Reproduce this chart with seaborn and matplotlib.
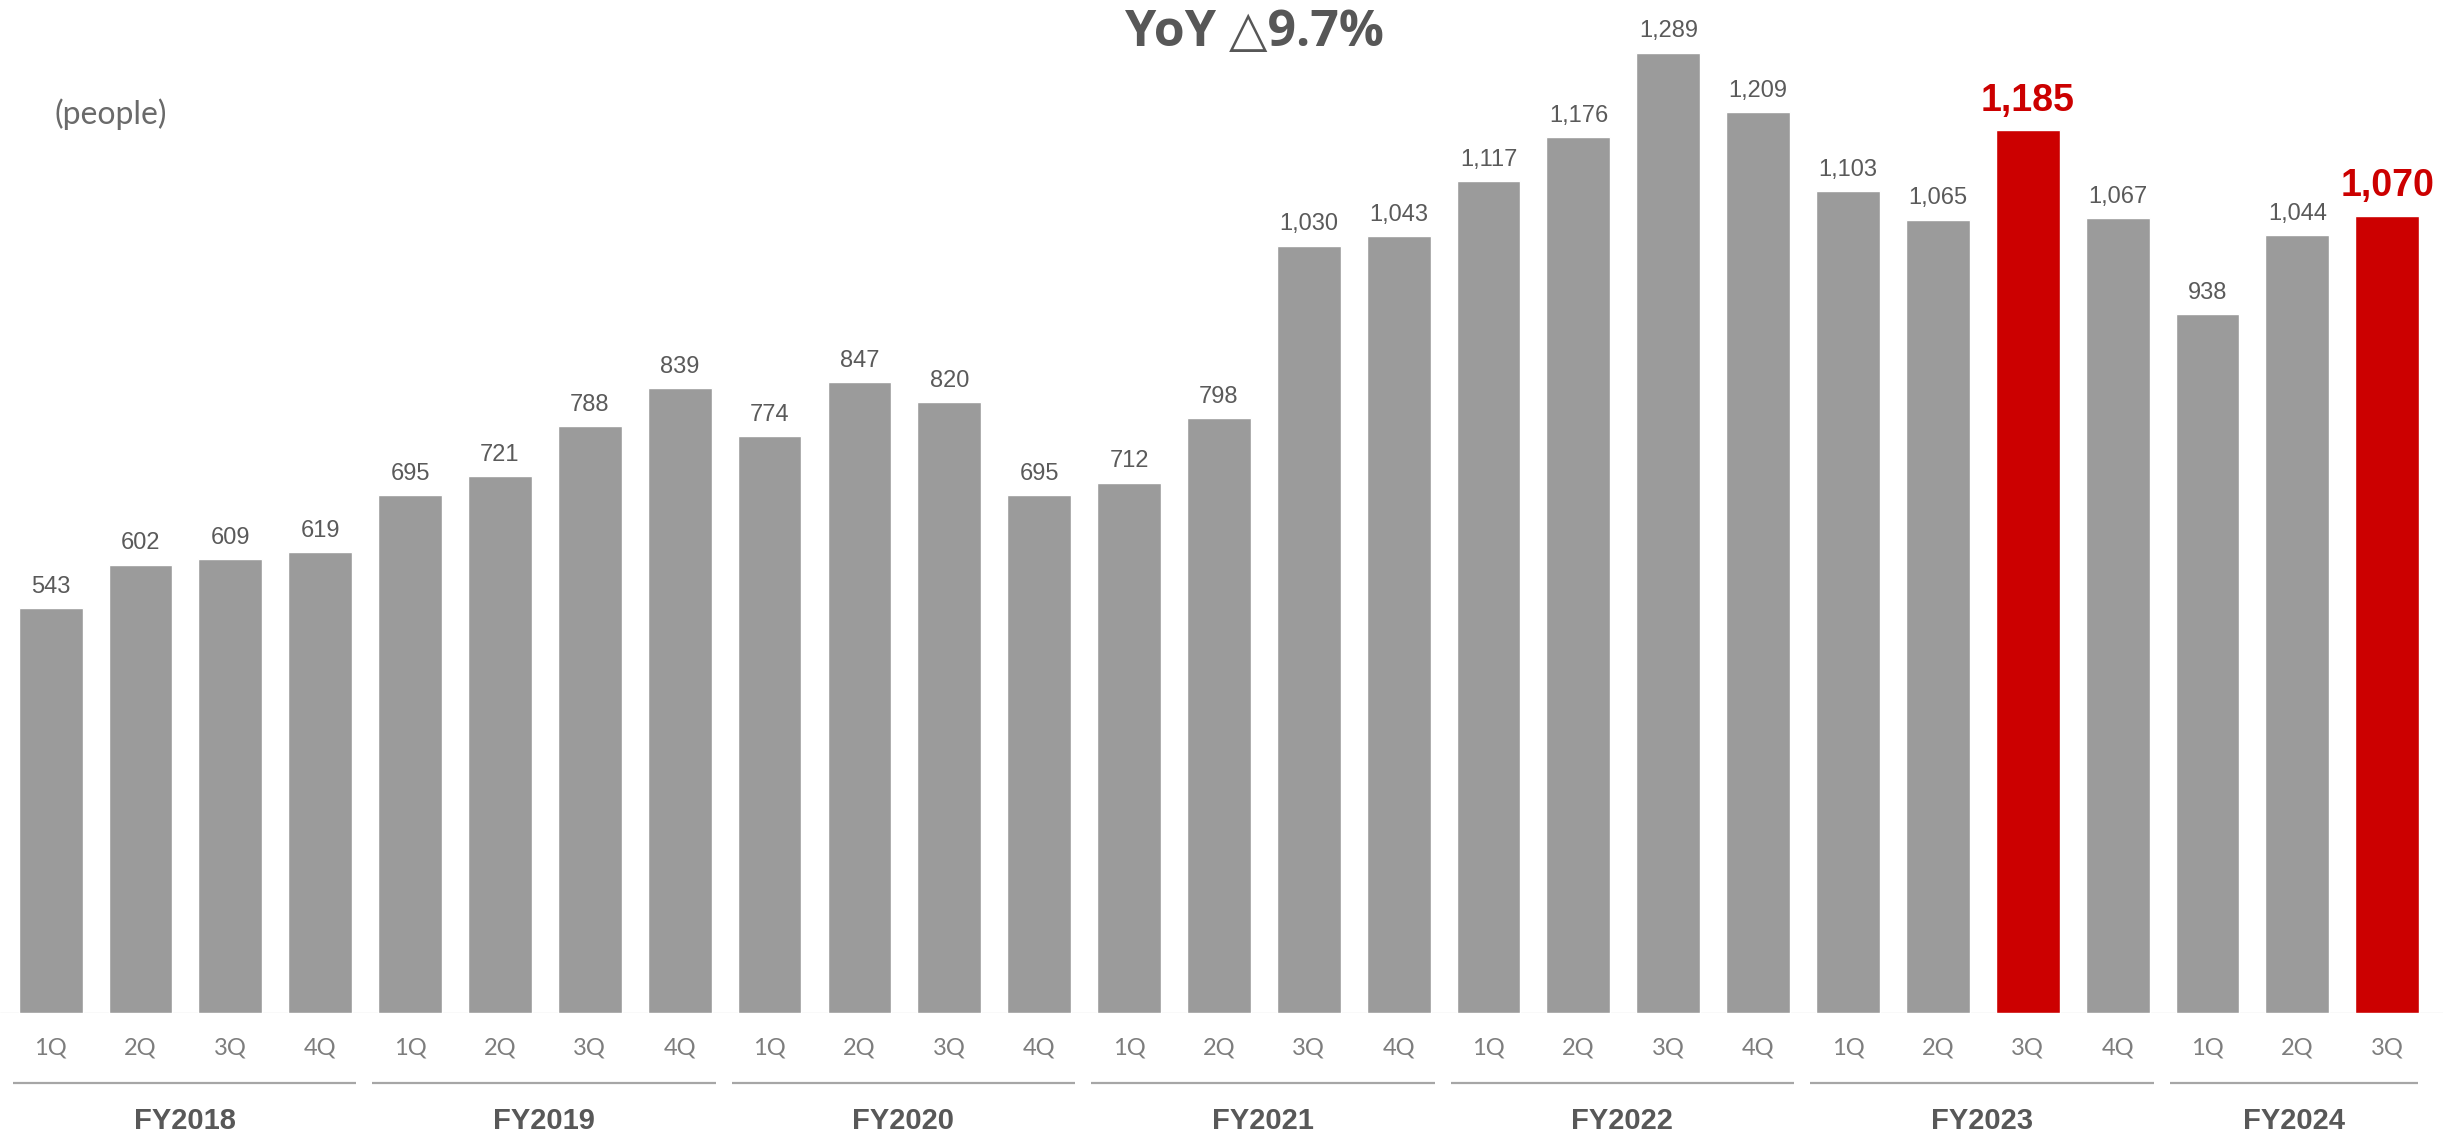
import matplotlib
matplotlib.use("Agg")
import matplotlib.pyplot as plt
from matplotlib.transforms import blended_transform_factory
import seaborn as sns
import pandas as pd

# ---- data -------------------------------------------------------------
fiscal_years = ["FY2018", "FY2019", "FY2020", "FY2021", "FY2022", "FY2023", "FY2024"]
quarters_in_year = [4, 4, 4, 4, 4, 4, 3]
quarter_names = ["1Q", "2Q", "3Q", "4Q"]
headcount = [543, 602, 609, 619,
             695, 721, 788, 839,
             774, 847, 820, 695,
             712, 798, 1030, 1043,
             1117, 1176, 1289, 1209,
             1103, 1065, 1185, 1067,
             938, 1044, 1070]
highlighted = ["FY2023 3Q", "FY2024 3Q"]
title_text = "YoY △9.7%"
unit_text = "(people)"

# ---- styling ----------------------------------------------------------
sns.set_theme(style="white")
plt.rcParams["font.family"] = ["Liberation Sans", "DejaVu Sans"]

GRAY = "#9b9b9b"
RED = "#cc0000"
LABEL = "#5a5a5a"

period, quarter, year_of = [], [], []
for fy, n in zip(fiscal_years, quarters_in_year):
    for q in quarter_names[:n]:
        period.append(f"{fy} {q}")
        quarter.append(q)
        year_of.append(fy)

df = pd.DataFrame({"period": period, "quarter": quarter, "year": year_of,
                   "value": headcount})
df["highlight"] = df["period"].isin(highlighted)

W, H = 2443, 1139
fig = plt.figure(figsize=(W / 100, H / 100), dpi=100)
base_px = 1013
ax = fig.add_axes([0, (H - base_px) / H, 1, base_px / H])

sns.barplot(data=df, x="period", y="value", hue="highlight",
            palette={False: GRAY, True: RED}, dodge=False, width=0.71,
            saturation=1, legend=False, ax=ax, order=period)

px_per_unit = 0.745
x_step = 89.87
x0 = -50.6 / x_step
ax.set_axis_off()
ax.axhline(0, color="#e2e2e2", lw=1.0, zorder=0)

# value labels above bars
for i, row in df.iterrows():
    if row["highlight"]:
        ax.annotate(f"{row['value']:,}", xy=(i, row["value"]), xytext=(0, 14),
                    textcoords="offset points", ha="center", va="baseline",
                    fontsize=27, fontweight="bold", color=RED)
    else:
        ax.annotate(f"{row['value']:,}", xy=(i, row["value"]), xytext=(0, 11),
                    textcoords="offset points", ha="center", va="baseline",
                    fontsize=17, color=LABEL)

# category axis: quarters, fiscal-year brackets and names
trans = blended_transform_factory(ax.transData, fig.transFigure)
for i, q in enumerate(df["quarter"]):
    ax.text(i, 1 - 1048 / H, q, transform=trans, ha="center", va="center",
            fontsize=17, color="#7d7d7d", family=["Lato", "DejaVu Sans"])

start = 0
for k, (fy, n) in enumerate(zip(fiscal_years, quarters_in_year)):
    first, last = start, start + n - 1
    x_a = first - 0.42
    x_b = last + 0.40 if k < len(fiscal_years) - 1 else last + 0.34
    ax.plot([x_a, x_b], [1 - 1083 / H] * 2, transform=trans, clip_on=False,
            color="#a6a6a6", lw=1.6, solid_capstyle="butt")
    ax.text((x_a + x_b) / 2, 1 - 1121 / H, fy, transform=trans, ha="center",
            va="center", fontsize=21, fontweight="bold", color="#585858")
    start += n

ax.set_xlim(x0, x0 + W / x_step)
ax.set_ylim(0, base_px / px_per_unit)

fig.text(1254 / W, 1 - 33 / H, title_text, ha="center", va="center",
         fontsize=36, fontweight="bold", color="#575757",
         family=["Open Sans", "DejaVu Sans"])
fig.text(55 / W, 1 - 114 / H, unit_text, ha="left", va="center",
         fontsize=23, color="#6a6a6a", family=["Lato", "DejaVu Sans"])

fig.savefig("out.png", dpi=100, facecolor="white")
